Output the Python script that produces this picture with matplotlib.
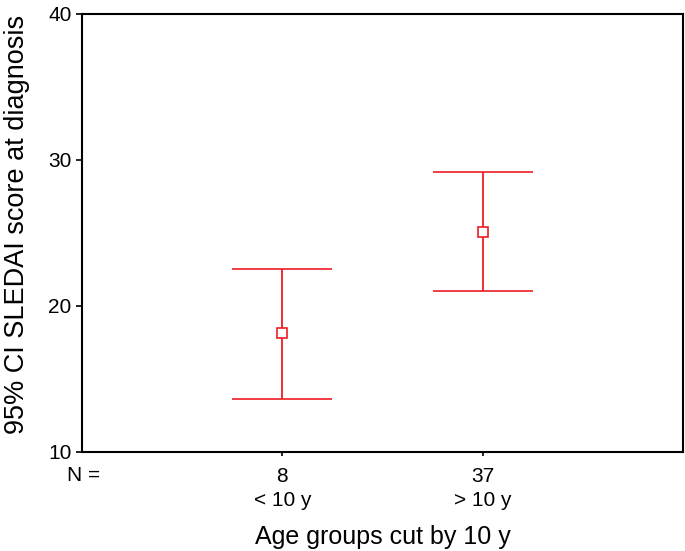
import numpy as np
import matplotlib
matplotlib.use("Agg")
import matplotlib.pyplot as plt

plt.rcParams["font.family"] = ["Liberation Sans", "DejaVu Sans"]

# data
groups = ["< 10 y", "> 10 y"]
counts = [8, 37]
means = [18.15, 25.1]
lower = [13.65, 21.0]
upper = [22.55, 29.15]

RED = "#ee1c24"

fig = plt.figure(figsize=(6.85, 5.51), dpi=100)
ax = fig.add_axes([0.1197, 0.1797, 0.8773, 0.795])

x = np.arange(1, len(groups) + 1)
means = np.array(means)
yerr = [means - np.array(lower), np.array(upper) - means]
ax.errorbar(x, means, yerr=yerr, fmt="s", mfc="white", mec=RED, ms=7,
            mew=1.2, ecolor=RED, elinewidth=1.3, capsize=36, capthick=1.3,
            color=RED)

ax.set_xlim(0, 3)
ax.set_ylim(10, 40)
ax.set_yticks([10, 20, 30, 40])
ax.set_xticks(x)
ax.set_xticklabels([f"{n}\n{g}" for n, g in zip(counts, groups)],
                   fontsize=15, linespacing=1.3)
ax.tick_params(axis="y", labelsize=15, length=4.5, width=1.2,
               direction="out", pad=3)
ax.tick_params(axis="x", length=3, width=1.2, direction="out", pad=8)
for s in ax.spines.values():
    s.set_linewidth(1.5)

# "N =" sits on the line of the counts
ax.text(0.03, -0.053, "N =", transform=ax.transAxes, fontsize=15,
        ha="right", va="center")

ax.set_ylabel("95% CI SLEDAI score at diagnosis", fontsize=19.5)
ax.yaxis.set_label_coords(-0.087, 0.52)
ax.set_xlabel("Age groups cut by 10 y", fontsize=18, labelpad=11)

fig.savefig("out.png", dpi=100)
